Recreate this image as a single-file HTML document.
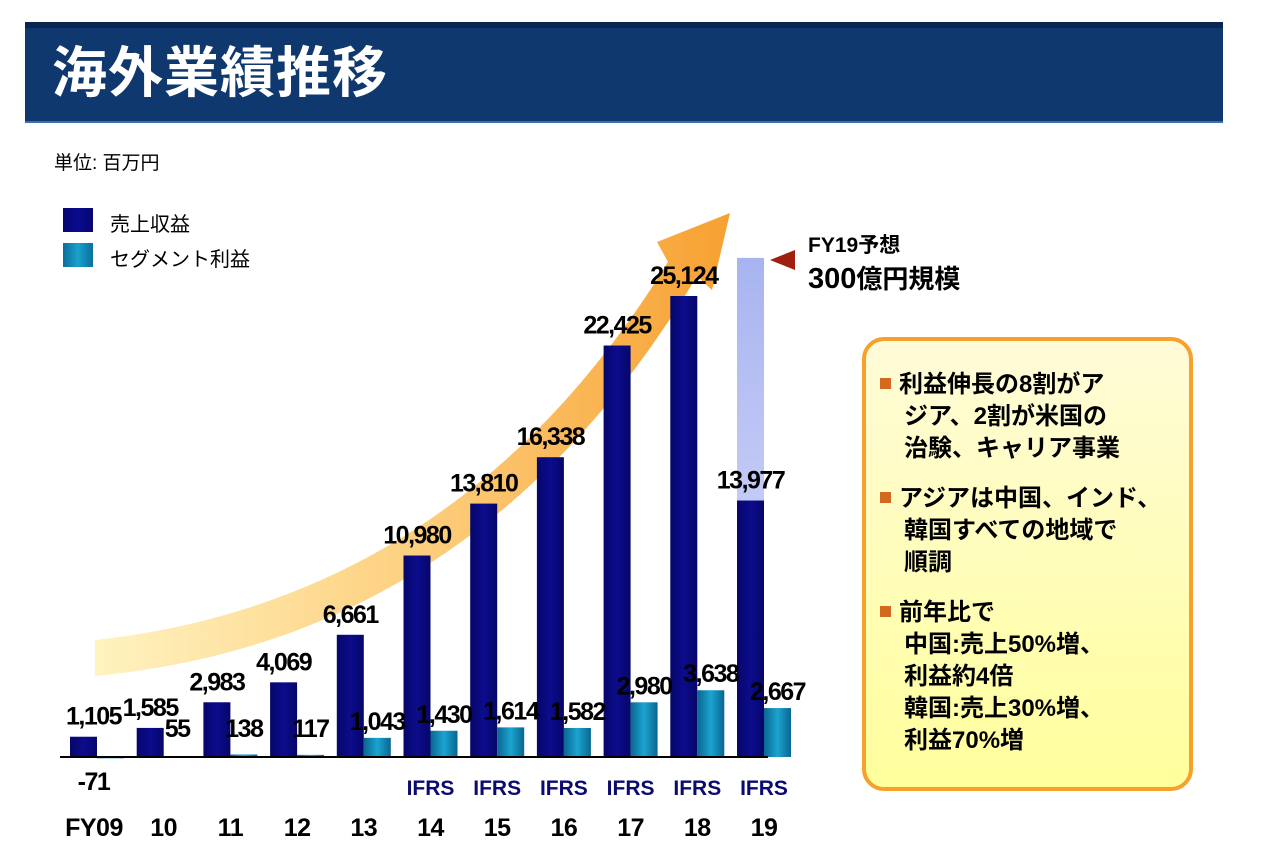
<!DOCTYPE html>
<html><head><meta charset="utf-8"><style>
body{margin:0;width:1280px;height:857px;background:#fff;overflow:hidden;font-family:"Liberation Sans","Noto Sans CJK JP",sans-serif;position:relative}
.a{position:absolute;white-space:nowrap}
</style></head><body>
<div class="a" style="left:25px;top:22px;width:1198px;height:101px;background:#0e386e;border-top:6px solid #0a2650;border-bottom:2px solid #3d6fb0;box-sizing:border-box"></div>
<div class="a" style="left:52px;top:42px;font-size:55px;line-height:62px;font-weight:bold;color:#fff;letter-spacing:1px">海外業績推移</div>
<div class="a" style="left:54px;top:148px;font-size:19px;color:#000">単位: 百万円</div>
<div class="a" style="left:63px;top:208px;width:30px;height:24px;background:linear-gradient(90deg,#070770,#0a0a90,#070770)"></div>
<div class="a" style="left:110px;top:208px;font-size:20px">売上収益</div>
<div class="a" style="left:63px;top:243px;width:30px;height:24px;background:linear-gradient(90deg,#0b6f9a,#1aa0cc,#0b6f9a)"></div>
<div class="a" style="left:110px;top:243px;font-size:20px">セグメント利益</div>
<svg class="a" style="left:0;top:0" width="1280" height="857">
<defs>
<linearGradient id="ag" x1="0" y1="0" x2="1" y2="0"><stop offset="0" stop-color="#fff3c0"/><stop offset="0.5" stop-color="#fdd080"/><stop offset="1" stop-color="#f7a030"/></linearGradient>
<linearGradient id="rev" x1="0" x2="1"><stop offset="0" stop-color="#06066a"/><stop offset="0.5" stop-color="#0c0c8c"/><stop offset="1" stop-color="#06066a"/></linearGradient>
<linearGradient id="pro" x1="0" x2="1"><stop offset="0" stop-color="#0a6690"/><stop offset="0.5" stop-color="#1ba4d0"/><stop offset="1" stop-color="#0a6690"/></linearGradient>
<linearGradient id="fc" x1="0" y1="0" x2="0" y2="1"><stop offset="0" stop-color="#a8b4f0"/><stop offset="1" stop-color="#dfe4fb"/></linearGradient>
</defs>
<path d="M95,640 Q460,600 668,262 L657,242 L730,213 L712,290 L697,276 Q480,640 95,676 Z" fill="url(#ag)"/>
<g id="bars"></g>
<line x1="60" y1="757" x2="768" y2="757" stroke="#000" stroke-width="2"/>
<polygon points="770,260 795,250 795,270" fill="#a02010"/>
</svg>
<div class="a" style="left:808px;top:229px;font-size:21px;font-weight:bold">FY19予想</div>
<div class="a" style="left:808px;top:259px;font-size:26px;font-weight:bold"><span style="font-size:29px">300</span>億円規模</div>
<div class="a" style="left:862px;top:337px;width:331px;height:454px;box-sizing:border-box;border:4px solid #f7a02a;border-radius:22px;background:linear-gradient(180deg,#fffbd8,#ffff9c);padding:28px 0 0 14px;font-size:24px;font-weight:bold;line-height:32px">
<div><span style="display:inline-block;width:11px;height:11px;background:#d2691e;margin-right:8px;vertical-align:3px"></span>利益伸長の8割がア<br><span style="padding-left:24px"></span>ジア、2割が米国の<br><span style="padding-left:24px"></span>治験、キャリア事業</div>
<div style="margin-top:18px"><span style="display:inline-block;width:11px;height:11px;background:#d2691e;margin-right:8px;vertical-align:3px"></span>アジアは中国、インド、<br><span style="padding-left:24px"></span>韓国すべての地域で<br><span style="padding-left:24px"></span>順調</div>
<div style="margin-top:18px"><span style="display:inline-block;width:11px;height:11px;background:#d2691e;margin-right:8px;vertical-align:3px"></span>前年比で<br><span style="padding-left:24px"></span>中国:売上50%増、<br><span style="padding-left:24px"></span>利益約4倍<br><span style="padding-left:24px"></span>韓国:売上30%増、<br><span style="padding-left:24px"></span>利益70%増</div>
</div>
<script>
const years=["FY09","10","11","12","13","14","15","16","17","18","19"];
const revenue=[1105,1585,2983,4069,6661,10980,13810,16338,22425,25124,13977];
const profit=[-71,55,138,117,1043,1430,1614,1582,2980,3638,2667];
const ifrs=[false,false,false,false,false,true,true,true,true,true,true];
const forecastRevenue=27200;
const base=757,k=461/25124,x0=70,step=66.7,bw=27;
const y=v=>base-v*k;
const g=document.getElementById('bars');
const NS="http://www.w3.org/2000/svg";
function rect(x,yy,w,h,f,n){const r=document.createElementNS(NS,'rect');r.setAttribute('x',x);r.setAttribute('y',yy);r.setAttribute('width',w);r.setAttribute('height',Math.max(h,1));r.setAttribute('fill',f);


g.appendChild(r);}
function txt(x,yy,s,size,col,n,sp){const t=document.createElementNS(NS,'text');t.setAttribute('x',x);t.setAttribute('y',yy);t.setAttribute('text-anchor','middle');t.setAttribute('font-size',size);t.setAttribute('font-weight','bold');t.setAttribute('fill',col);t.setAttribute('font-family','Liberation Sans, sans-serif');if(sp)t.setAttribute('letter-spacing',sp);t.textContent=s;


document.querySelector('svg').appendChild(t);}
const fmt=v=>v.toLocaleString('en-US');
years.forEach((yr,i)=>{
 const x=x0+i*step;
 if(i===years.length-1){rect(x,y(forecastRevenue),bw,base-y(forecastRevenue),'url(#fc)','forecast-bar');}
 rect(x,y(revenue[i]),bw,base-y(revenue[i]),'url(#rev)','revenue-bar-'+i);
 const p=profit[i];
 if(p>=0) rect(x+bw,y(p),bw,base-y(p),'url(#pro)','profit-bar-'+i);
 else rect(x+bw,base,bw,-p*k,'url(#pro)','profit-bar-'+i);
 txt(x+bw/2+(i===0?10:0),y(revenue[i])-12,fmt(revenue[i]),25,'#000','revenue-label-'+i,'-1.5');
 if(p>=0) txt(x+bw+bw/2,Math.min(y(p)-8,base-20),fmt(p),25,'#000','profit-label-'+i,'-1.5');
 else txt(x+bw/2+10,790,String(p),25,'#000','profit-label-'+i,'-1.5');
 if(ifrs[i]) txt(x+bw,795,'IFRS',21,'#0a0a70','ifrs-label-'+i);
 txt(x+bw+(i===0?-3:0),836,yr,25,'#000','year-label-'+i,'-0.5');
});
</script>
</body></html>
